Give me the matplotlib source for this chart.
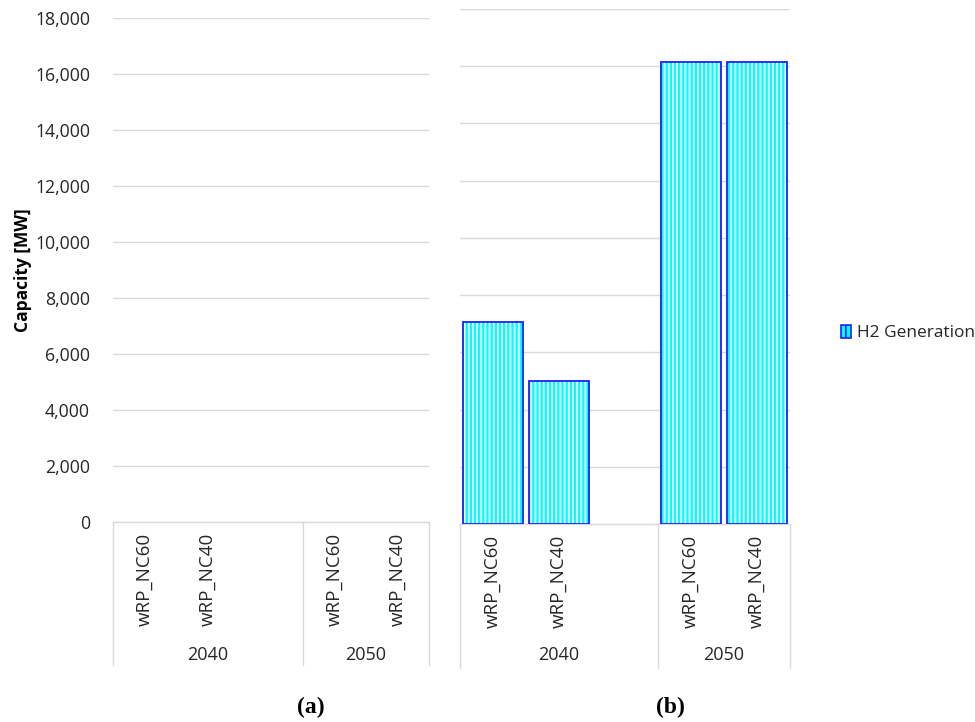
import matplotlib
matplotlib.use("Agg")
import matplotlib.pyplot as plt
from matplotlib.patches import Patch
from matplotlib.transforms import blended_transform_factory
from matplotlib.ticker import FuncFormatter, MultipleLocator

plt.rcParams['font.family'] = ['Open Sans', 'DejaVu Sans']
plt.rcParams['hatch.linewidth'] = 1.25

# Category slots: 2040 has a blank third slot
scenarios = ["wRP_NC60", "wRP_NC40", "", "wRP_NC60", "wRP_NC40"]
years = ["2040", "2050"]
year_slots = [(0, 2), (3, 4)]
series_name = "H2 Generation"

# (a) no H2 generation capacity; (b) with H2 generation
values_a = [0, 0, None, 0, 0]
values_b = [7070, 5000, None, 16150, 16150]

ymax = 18000
grid_c = "#d9d9d9"
text_c = "#262626"
face_c = "#00ffff"
edge_c = "#1f1fff"

fig = plt.figure(figsize=(9.75, 7.22), dpi=100)
W, H = 975, 722


def make_axes(x0, x1, y_top, y_base):
    return fig.add_axes([x0 / W, 1 - y_base / H, (x1 - x0) / W, (y_base - y_top) / H])


ax_a = make_axes(113, 429, 18, 522)
ax_b = make_axes(460, 790, 9, 524)


def style(ax, values, sep_bottom_px, year_px, show_y):
    pos = list(range(len(scenarios)))
    xs = [p for p, v in zip(pos, values) if v is not None and v > 0]
    hs = [v for v in values if v is not None and v > 0]
    if xs:
        # cyan fill with fine white vertical stripes, blue outline
        ax.bar(xs, hs, width=0.92, color=face_c, edgecolor="white",
               hatch="||||", linewidth=0, zorder=2)
        ax.bar(xs, hs, width=0.92, facecolor="none", edgecolor=edge_c,
               linewidth=1.3, zorder=3)
    ax.set_xlim(-0.5, len(scenarios) - 0.5)
    ax.set_ylim(0, ymax)
    ax.yaxis.set_major_locator(MultipleLocator(2000))
    ax.grid(axis="y", color=grid_c, linewidth=1.0, zorder=0)
    ax.set_axisbelow(True)
    for s in ["top", "right", "left"]:
        ax.spines[s].set_visible(False)
    ax.spines["bottom"].set_color(grid_c)
    ax.spines["bottom"].set_linewidth(1.0)
    ticks = [p for p, s in zip(pos, scenarios) if s]
    ax.set_xticks(ticks)
    ax.set_xticklabels([s for s in scenarios if s], rotation=90, fontsize=13.5,
                       color=text_c, va="top")
    ax.tick_params(axis="x", length=0, pad=8)
    ax.tick_params(axis="y", length=0)
    if show_y:
        ax.yaxis.set_major_formatter(FuncFormatter(lambda v, _: f"{v:,.0f}"))
        ax.tick_params(axis="y", labelsize=12.7, labelcolor=text_c, pad=16.5)
        ax.set_ylabel("Capacity [MW]", fontsize=12.5, fontweight="bold",
                      color="black", labelpad=2)
    else:
        ax.set_yticklabels([])

    # multi-level category dividers and year labels
    tr = blended_transform_factory(ax.transData, ax.transAxes)
    h_px = ax.get_position().height * H
    y_low = -sep_bottom_px / h_px
    for xv in [-0.5, 2.5, 4.5]:
        ax.plot([xv, xv], [0, y_low], transform=tr, color=grid_c,
                linewidth=1.0, clip_on=False)
    for (a, b), yr in zip(year_slots, years):
        ax.text((a + b) / 2, -year_px / h_px, yr, transform=tr, ha="center",
                va="center", fontsize=13, color=text_c)


style(ax_a, values_a, 143, 133, True)
style(ax_b, values_b, 144, 131, False)

fig.legend(handles=[Patch(facecolor=face_c, edgecolor=edge_c, hatch="||",
                          linewidth=1.2, label=series_name)],
           loc="center left", bbox_to_anchor=(834 / W, 1 - 333 / H),
           frameon=False, fontsize=12.4, handlelength=0.6, handleheight=0.8,
           handletextpad=0.35, labelcolor=text_c, borderaxespad=0)

fig.text(311 / W, 1 - 707 / H, "(a)", ha="center", va="center", fontsize=17,
         fontweight="bold", family=["Liberation Serif", "DejaVu Serif"])
fig.text(670 / W, 1 - 707 / H, "(b)", ha="center", va="center", fontsize=17,
         fontweight="bold", family=["Liberation Serif", "DejaVu Serif"])

fig.savefig("out.png", dpi=100)
